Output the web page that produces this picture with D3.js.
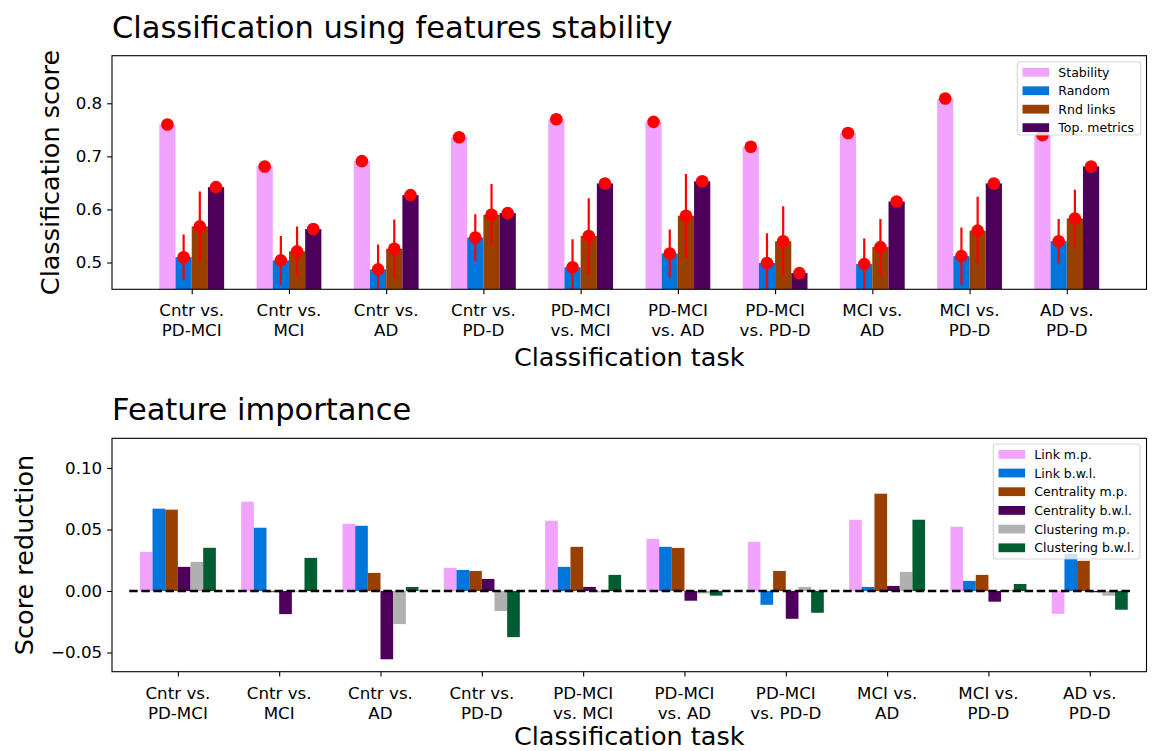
<!DOCTYPE html>
<html>
<head>
<meta charset="utf-8">
<script src="https://cdn.jsdelivr.net/npm/d3@7"></script>
<style>
  html, body { margin: 0; padding: 0; background: #fff; }
  svg { display: block; }
  text { font-family: "DejaVu Sans", sans-serif; fill: #000; }
</style>
</head>
<body>
<svg id="chart" width="1155" height="751"></svg>
<script>
// ---------------- DATA ----------------
const taskLines = [
  ["Cntr vs.", "PD-MCI"], ["Cntr vs.", "MCI"], ["Cntr vs.", "AD"], ["Cntr vs.", "PD-D"],
  ["PD-MCI", "vs. MCI"], ["PD-MCI", "vs. AD"], ["PD-MCI", "vs. PD-D"],
  ["MCI vs.", "AD"], ["MCI vs.", "PD-D"], ["AD vs.", "PD-D"]
];

// Top chart: classification scores
const topSeriesNames = ["Stability", "Random", "Rnd links", "Top. metrics"];
const stability   = [0.760, 0.681, 0.691, 0.736, 0.770, 0.765, 0.718, 0.744, 0.809, 0.740];
const randomScore = [0.510, 0.504, 0.487, 0.547, 0.491, 0.517, 0.499, 0.497, 0.512, 0.540];
const randomErr   = [0.043, 0.046, 0.047, 0.044, 0.053, 0.045, 0.056, 0.048, 0.054, 0.042];
const rndLinks    = [0.568, 0.521, 0.526, 0.590, 0.550, 0.588, 0.540, 0.529, 0.560, 0.583];
const rndLinksErr = [0.066, 0.047, 0.055, 0.058, 0.071, 0.079, 0.066, 0.053, 0.064, 0.054];
const topMetrics  = [0.642, 0.563, 0.627, 0.593, 0.649, 0.653, 0.480, 0.615, 0.649, 0.681];
const topTicks    = [0.5, 0.6, 0.7, 0.8];

// Bottom chart: feature importance (score reduction)
const bottomSeriesNames = ["Link m.p.", "Link b.w.l.", "Centrality m.p.", "Centrality b.w.l.", "Clustering m.p.", "Clustering b.w.l."];
const linkMP   = [0.0318, 0.0726, 0.0546, 0.0188, 0.0571, 0.0424, 0.0400, 0.0579, 0.0522, -0.0185];
const linkBWL  = [0.0669, 0.0514, 0.0530, 0.0171, 0.0196, 0.0359, -0.0112, 0.0033, 0.0082, 0.0302];
const centMP   = [0.0661, -0.0010, 0.0147, 0.0163, 0.0359, 0.0350, 0.0163, 0.0791, 0.0131, 0.0245];
const centBWL  = [0.0196, -0.0188, -0.0555, 0.0098, 0.0033, -0.0079, -0.0226, 0.0041, -0.0087, -0.0010];
const clustMP  = [0.0237, -0.0005, -0.0269, -0.0163, -0.0010, -0.0020, 0.0033, 0.0155, 0.0008, -0.0038];
const clustBWL = [0.0351, 0.0269, 0.0033, -0.0375, 0.0131, -0.0038, -0.0177, 0.0579, 0.0057, -0.0152];
const bottomTicks = [-0.05, 0.00, 0.05, 0.10];

// ---------------- STYLE ----------------
const topColors = ["#f0a3ff", "#0075dc", "#993f00", "#4c005c"];
const bottomColors = ["#f0a3ff", "#0075dc", "#993f00", "#4c005c", "#b0b0b0", "#005c31"];
const tickFont = 16.7, labelFont = 25.5, titleFont = 30.5, legendFont = 12.5;

const svg = d3.select("#chart");

function frameAxes(g, box, x, y, yTicks, yFmt, ylabel, ylabelX, title, xlabelOff) {
  const yAxis = d3.axisLeft(y).tickValues(yTicks).tickFormat(yFmt).tickSize(4.9).tickPadding(4.9);
  const ya = g.append("g").attr("transform", `translate(${box.left},0)`).call(yAxis);
  ya.select(".domain").remove();
  ya.selectAll("line").attr("stroke", "#000").attr("stroke-width", 1.1);
  ya.selectAll("text").style("font-size", tickFont + "px").style("font-family", "DejaVu Sans");
  const xAxis = d3.axisBottom(x).tickValues(d3.range(10)).tickFormat("").tickSize(4.9);
  const xa = g.append("g").attr("transform", `translate(0,${box.bottom})`).call(xAxis);
  xa.select(".domain").remove();
  xa.selectAll("line").attr("stroke", "#000").attr("stroke-width", 1.1);
  const lab = g.append("g");
  taskLines.forEach((lines, i) => {
    const t = lab.append("text").attr("text-anchor", "middle")
      .attr("x", x(i)).attr("y", box.bottom + 27).style("font-size", tickFont + "px");
    t.append("tspan").attr("x", x(i)).text(lines[0]);
    t.append("tspan").attr("x", x(i)).attr("dy", 20).text(lines[1]);
  });
  g.append("rect").attr("x", box.left).attr("y", box.top)
    .attr("width", box.right - box.left).attr("height", box.bottom - box.top)
    .attr("fill", "none").attr("stroke", "#000").attr("stroke-width", 1.1);
  g.append("text").attr("text-anchor", "middle")
    .attr("x", (box.left + box.right) / 2).attr("y", box.bottom + xlabelOff)
    .style("font-size", labelFont + "px").text("Classification task");
  g.append("text").attr("text-anchor", "middle")
    .attr("transform", `translate(${ylabelX},${(box.top + box.bottom) / 2}) rotate(-90)`)
    .style("font-size", labelFont + "px").text(ylabel);
  g.append("text").attr("x", box.left).attr("y", box.top - 18)
    .style("font-size", titleFont + "px").text(title);
}

function legend(g, names, colors, box) {
  const lg = g.append("g");
  lg.append("rect").attr("x", box.x).attr("y", box.y).attr("width", box.w).attr("height", box.h)
    .attr("rx", 3).attr("fill", "#fff").attr("fill-opacity", 0.8)
    .attr("stroke", "#cccccc").attr("stroke-opacity", 0.8).attr("stroke-width", 1.1);
  names.forEach((n, i) => {
    const cy = box.y + box.first + i * box.step;
    lg.append("rect").attr("x", box.x + 5.2).attr("y", cy - 4.4).attr("width", 26.6).attr("height", 8.8)
      .attr("fill", colors[i]);
    lg.append("text").attr("x", box.x + 41).attr("y", cy).attr("dy", "0.36em")
      .style("font-size", legendFont + "px").text(n);
  });
}

// ---------------- TOP CHART ----------------
{
  const box = { left: 112, right: 1146.5, top: 55.7, bottom: 289.3 };
  const x = d3.scaleLinear().domain([-0.82, 9.82]).range([box.left, box.right]);
  const y = d3.scaleLinear().domain([0.4495, 0.8897]).range([box.bottom, box.top]);
  const g = svg.append("g");
  svg.append("clipPath").attr("id", "clipTop").append("rect")
    .attr("x", box.left).attr("y", box.top).attr("width", box.right - box.left).attr("height", box.bottom - box.top);
  const plot = g.append("g").attr("clip-path", "url(#clipTop)");
  const series = [stability, randomScore, rndLinks, topMetrics];
  const errs = [null, randomErr, rndLinksErr, null];
  const bw = 1 / 6;
  series.forEach((vals, s) => {
    const off = (s - 1.5) * bw;
    plot.append("g").selectAll("rect").data(vals).join("rect")
      .attr("x", (d, i) => x(i + off - bw / 2))
      .attr("width", (d, i) => x(i + off + bw / 2) - x(i + off - bw / 2))
      .attr("y", d => y(d))
      .attr("height", d => y(y.domain()[0]) - y(d))
      .attr("fill", topColors[s]);
  });
  series.forEach((vals, s) => {
    const off = (s - 1.5) * bw;
    const eg = plot.append("g");
    if (errs[s]) {
      eg.selectAll("line").data(vals).join("line")
        .attr("x1", (d, i) => x(i + off)).attr("x2", (d, i) => x(i + off))
        .attr("y1", (d, i) => y(d - errs[s][i])).attr("y2", (d, i) => y(d + errs[s][i]))
        .attr("stroke", "#ff0000").attr("stroke-width", 2.2);
    }
    eg.selectAll("circle").data(vals).join("circle")
      .attr("cx", (d, i) => x(i + off)).attr("cy", d => y(d)).attr("r", 6.3)
      .attr("fill", "#ff0000");
  });
  frameAxes(g, box, x, y, topTicks, d3.format(".1f"), "Classification score", 59, "Classification using features stability", 76.5);
  legend(g, topSeriesNames, topColors, { x: 1017.3, y: 61.7, w: 123.4, h: 73.3, first: 10.6, step: 18.45 });
}

// ---------------- BOTTOM CHART ----------------
{
  const box = { left: 112, right: 1146.5, top: 438.3, bottom: 671.7 };
  const x = d3.scaleLinear().domain([-0.65, 9.56]).range([box.left, box.right]);
  const y = d3.scaleLinear().domain([-0.0656, 0.1241]).range([box.bottom, box.top]);
  const g = svg.append("g");
  svg.append("clipPath").attr("id", "clipBot").append("rect")
    .attr("x", box.left).attr("y", box.top).attr("width", box.right - box.left).attr("height", box.bottom - box.top);
  const plot = g.append("g").attr("clip-path", "url(#clipBot)");
  const series = [linkMP, linkBWL, centMP, centBWL, clustMP, clustBWL];
  const bw = 0.125;
  series.forEach((vals, s) => {
    const off = (s - 2.5) * bw;
    plot.append("g").selectAll("rect").data(vals).join("rect")
      .attr("x", (d, i) => x(i + off - bw / 2))
      .attr("width", (d, i) => x(i + off + bw / 2) - x(i + off - bw / 2))
      .attr("y", d => y(Math.max(0, d)))
      .attr("height", d => Math.abs(y(d) - y(0)))
      .attr("fill", bottomColors[s]);
  });
  plot.append("line")
    .attr("x1", x(-0.48)).attr("x2", x(9.42)).attr("y1", y(0)).attr("y2", y(0))
    .attr("stroke", "#000").attr("stroke-width", 2.3).attr("stroke-dasharray", "8.5,3.6");
  frameAxes(g, box, x, y, bottomTicks, d3.format(".2f"), "Score reduction", 33, "Feature importance", 73.2);
  legend(g, bottomSeriesNames, bottomColors, { x: 993.3, y: 444, w: 146.7, h: 115, first: 10.3, step: 18.7 });
}
</script>
</body>
</html>
